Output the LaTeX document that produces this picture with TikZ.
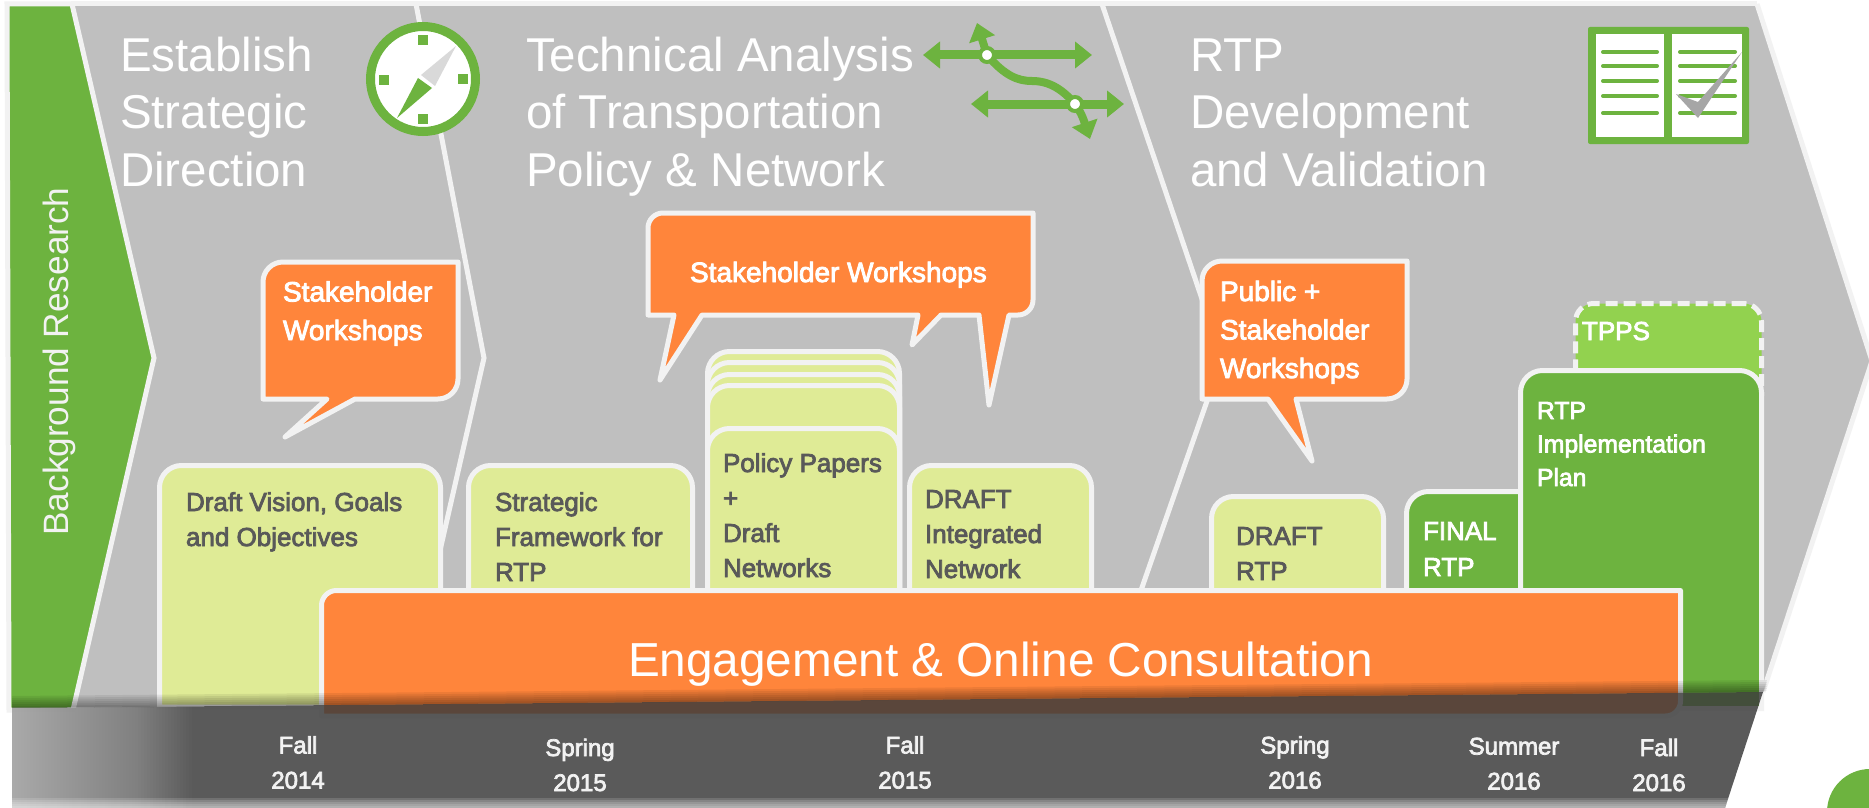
\documentclass[tikz,border=0pt]{standalone}
\usepackage{fontspec}
\setmainfont{Liberation Sans}
\newfontfamily\lab[FakeBold=3]{Liberation Sans}
\usetikzlibrary{arrows.meta}
\definecolor{panelc}{HTML}{BFBFBF}
\definecolor{edgec}{HTML}{F2F2F2}
\definecolor{orangec}{HTML}{FF853B}
\definecolor{palec}{HTML}{DFEB96}
\definecolor{greenc}{HTML}{6DB33F}
\definecolor{limec}{HTML}{92D24F}
\definecolor{darkt}{HTML}{595959}
\definecolor{bandc}{HTML}{3B3B3B}
\definecolor{checkc}{HTML}{A6A6A6}
\tikzset{
  sheet/.style={draw=edgec,line width=5pt,rounded corners=22pt,inner sep=0pt,outer sep=0pt,anchor=north west,fill=palec},
  sheetgreen/.style={sheet,fill=greenc},
  sheetdash/.style={sheet,fill=limec,rounded corners=18pt,dash pattern=on 12pt off 6pt},
  callout/.style={draw=edgec,fill=orangec,line width=5pt,line join=round},
  tallsheet/.style={draw=edgec,line width=5pt},
  txt/.style={inner sep=0pt,outer sep=0pt,anchor=base west,align=left},
  title/.style={txt,text=white,font=\fontsize{47.5}{57.5}\selectfont},
  cwhite/.style={txt,text=white,font=\lab\fontsize{28}{38.5}\selectfont},
  bdark/.style={txt,text=darkt,font=\lab\fontsize{26}{35}\selectfont},
  bwhite/.style={txt,text=white,font=\lab\fontsize{26}{36}\selectfont},
  bimpl/.style={txt,text=white,font=\lab\fontsize{24.7}{33.5}\selectfont},
  datel/.style={inner sep=0pt,outer sep=0pt,anchor=base,align=center,text=edgec,font=\lab\fontsize{24}{35}\selectfont},
  sep/.style={draw=edgec,line width=5pt},
  netarrow/.style={draw=greenc,line width=9pt,{Triangle[length=17pt,width=26pt]}-{Triangle[length=17pt,width=26pt]}},
  netcurve/.style={draw=greenc,line width=8pt},
  rule/.style={draw=greenc,line width=4pt,line cap=round},
  tick/.style={fill=greenc,draw=none,minimum size=10pt,inner sep=0pt,outer sep=0pt},
  hub/.style={circle,fill=white,draw=greenc,line width=4pt,minimum size=14pt,inner sep=0pt},
}
\begin{document}
\begin{tikzpicture}[x=1pt,y=-1pt]
\useasboundingbox (0,0) rectangle (1869,808);
\clip (0,0) rectangle (1869,808);
\fill[white] (0,0) rectangle (1869,808);
% panel
\fill[panelc] (71,4) -- (1757,4) -- (1872,361) -- (1763,692) -- (74,708) -- cycle;
\draw[sep] (1757,4) -- (71,4);
\draw[sep] (1757,4) -- (1872,361) -- (1763,692);
\draw[sep] (416,4) -- (484,358) -- (404,708);
\draw[sep] (1102,4) -- (1222,358) -- (1100,708);
% chevron
\draw[draw=edgec,line width=5pt,fill=greenc] (7,4) -- (72,4) -- (154,358) -- (73,710) -- (9,710) -- cycle;
\node[rotate=90,inner sep=0pt,anchor=base,text=edgec,font=\fontsize{35.2}{40}\selectfont] (research) at (68,361.5) {Background Research};
% titles
\node[title] (t1) at (120,186) {Establish\\Strategic\\Direction};
\node[title] (t2) at (526,186) {Technical Analysis\\of Transportation\\Policy \& Network};
\node[title] (t3) at (1190,186) {RTP\\Development\\and Validation};
% compass
\fill[white,draw=greenc,line width=9pt] (423,79) circle[radius=52.5pt];
\node[tick] (cn) at (423,40) {};
\node[tick] (cs) at (423,119) {};
\node[tick] (cw) at (384,80) {};
\node[tick] (ce) at (463,79) {};
\fill[greenc] (397,118) -- (418,78) -- (432,88) -- cycle;
\fill[black!15] (456,46) -- (421,75) -- (435,86) -- cycle;
% network icon
\coordinate (h1) at (987,55);
\coordinate (h2) at (1075,104);
\coordinate (a1l) at (923,55);
\coordinate (a1r) at (1092,55);
\coordinate (a2l) at (971,104);
\coordinate (a2r) at (1124,104);
\coordinate (tipa) at (977,23);
\coordinate (tipb) at (1090,139);
\draw[netarrow] (a1l) -- (a1r);
\draw[netarrow] (a2l) -- (a2r);
\draw[netcurve] (h1) .. controls (1005,76) and (1018,81) .. (1032,81) .. controls (1050,81) and (1063,90) .. (h2);
\draw[netcurve,-{Triangle[length=17pt,width=26pt]}] (h1) -- (tipa);
\draw[netcurve,-{Triangle[length=17pt,width=26pt]}] (h2) .. controls (1082,113) and (1085,124) .. (tipb);
\node[hub] (hub1) at (h1) {};
\node[hub] (hub2) at (h2) {};
% book icon
\fill[greenc,rounded corners=2pt] (1588,27) rectangle (1749,144);
\fill[white] (1596,34) rectangle (1664,137);
\fill[white] (1672,34) rectangle (1742,137);
\foreach \yy in {52,66,81,96,113}{
  \draw[rule] (1603,\yy) -- (1657,\yy);
  \draw[rule] (1680,\yy) -- (1735,\yy);
}
\fill[checkc] (1742,52) -- (1698,118) -- (1676,94) -- (1698,102) -- cycle;
% sheets
\draw[tallsheet,fill=palec] (159.5,707) -- (159.5,487) [rounded corners=22pt] -- (159.5,465.5) -- (440.5,465.5) [sharp corners] -- (440.5,707) -- cycle;
\node[sheet,minimum width=224pt,minimum height=180pt] (framework) at (468.5,465.5) {};
\node[sheet,minimum width=192pt,minimum height=280pt] (p4) at (707.5,351.5) {};
\node[sheet,minimum width=192pt,minimum height=270pt] (p3) at (707.5,362.5) {};
\node[sheet,minimum width=192pt,minimum height=260pt] (p2) at (707.5,374.5) {};
\node[sheet,minimum width=192pt,minimum height=250pt] (p1) at (707.5,385.5) {};
\node[sheet,minimum width=192pt,minimum height=210pt] (policy) at (707.5,428.5) {};
\node[sheet,minimum width=182pt,minimum height=180pt] (integrated) at (909.5,465.5) {};
\node[sheet,minimum width=172pt,minimum height=150pt] (draftrtp) at (1211.5,496.5) {};
\node[sheetgreen,minimum width=193pt,minimum height=150pt] (finalrtp) at (1406.5,491.5) {};
\node[sheetdash,minimum width=186pt,minimum height=110pt] (tpps) at (1575.5,303.5) {};
\draw[tallsheet,fill=greenc] (1520.5,708.5) -- (1520.5,392) [rounded corners=22pt] -- (1520.5,370.5) -- (1761.5,370.5) [sharp corners] -- (1761.5,708.5) -- cycle;
\node[bdark] at (186,546) {Draft Vision, Goals\\and Objectives};
\node[bdark] at (495,581) {Strategic\\Framework for\\RTP};
\node[bdark] at (723,577) {Policy Papers\\+\\Draft\\Networks};
\node[bdark] at (925,578) {DRAFT\\Integrated\\Network};
\node[bdark] at (1236,580) {DRAFT\\RTP};
\node[bwhite] at (1423,576) {FINAL\\RTP};
\node[bwhite] at (1582,340) {TPPS};
\node[bimpl] at (1537,486) {RTP\\Implementation\\Plan};
% callouts
\draw[callout] (263,282) [rounded corners=20pt] -- (263,262) [sharp corners] -- (458,262) -- (458,379) [rounded corners=20pt] -- (458,399) [sharp corners] -- (355,399) -- (285,437) -- (327,399) -- (263,399) -- cycle;
\draw[callout] (648,228) [rounded corners=15pt] -- (648,213) [sharp corners] -- (1033,213) -- (1033,300) [rounded corners=15pt] -- (1033,315) [sharp corners] -- (1009,315) -- (989,405) -- (979,315) -- (941,315) -- (912,345) -- (918,315) -- (702,315) -- (660,380) -- (674,315) -- (648,315) -- cycle;
\draw[callout] (1202,281) [rounded corners=20pt] -- (1202,261) [sharp corners] -- (1407,261) -- (1407,379) [rounded corners=20pt] -- (1407,399) [sharp corners] -- (1296,399) -- (1312,461) -- (1268,399) -- (1202,399) -- cycle;
\node[cwhite] at (283,340) {Stakeholder\\Workshops};
\node[cwhite] at (690,282) {Stakeholder Workshops};
\node[cwhite] at (1220,378) {Public +\\Stakeholder\\Workshops};
% engagement
\draw[callout] (321.5,605) [rounded corners=15pt] -- (321.5,590.5) [sharp corners] -- (1680.5,590.5) -- (1680.5,701) [rounded corners=15pt] -- (1680.5,716) [sharp corners] -- (321.5,716) -- cycle;
\node[txt,text=white,font=\fontsize{47.7}{57}\selectfont] (engage) at (628,676) {Engagement \& Online Consultation};
% soft shadow above the band
\foreach \dd in {2,4,6,8,10,12}{
  \fill[black,opacity=.07] (12,708) -- (1763,692) -- (1767,692-\dd) -- (12,708-\dd) -- cycle;
}
% band, faded by white veils at the left and the foot
\fill[bandc,opacity=.84] (12,708) -- (1763,692) -- (1725,808) -- (12,808) -- cycle;
\begin{scope}
\clip (12,708) -- (1763,692) -- (1725,808) -- (12,808) -- cycle;
\foreach \ii in {1,...,60}{
  \fill[white,opacity=.0155] (12,690) rectangle (12+3*\ii,808);
}
\foreach \dd in {2,4,6,8,10}{
  \fill[white,opacity=.14] (0,808-\dd) rectangle (1869,808);
}
\end{scope}
\node[datel] (d1) at (298,788.5) {Fall\\2014};
\node[datel] (d2) at (580,791) {Spring\\2015};
\node[datel] (d3) at (905,788.5) {Fall\\2015};
\node[datel] (d4) at (1295,788.5) {Spring\\2016};
\node[datel] (d5) at (1514,789.5) {Summer\\2016};
\node[datel] (d6) at (1659,791) {Fall\\2016};
% corner circle
\fill[greenc] (1870,812) circle[radius=43pt];
\end{tikzpicture}
\end{document}
